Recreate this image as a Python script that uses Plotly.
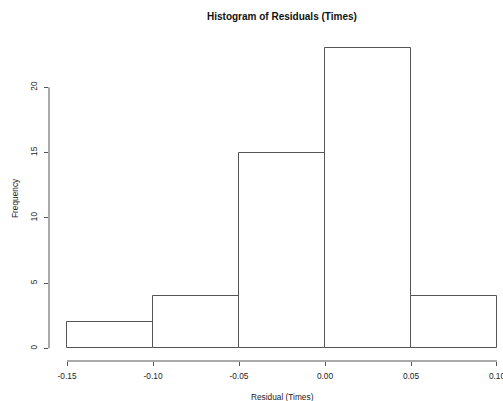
import plotly.graph_objects as go

# Data
breaks = [-0.15, -0.10, -0.05, 0.00, 0.05, 0.10]
counts = [2, 4, 15, 23, 4]
x_ticks = [-0.15, -0.10, -0.05, 0.00, 0.05, 0.10]
x_tick_labels = ["-0.15", "-0.10", "-0.05", "0.00", "0.05", "0.10"]
y_ticks = [0, 5, 10, 15, 20]
y_tick_labels = ["0", "5", "10", "15", "20"]

centers = [(a + b) / 2 for a, b in zip(breaks[:-1], breaks[1:])]
widths = [b - a for a, b in zip(breaks[:-1], breaks[1:])]

W, H = 503, 401
ML, MR, MT, MB = 49, 0, 36, 40
PW, PH = W - ML - MR, H - MT - MB

def px(xp):
    return (xp - ML) / PW

def py(yp):
    return (H - MB - yp) / PH

FONT = "Liberation Sans, Arial, sans-serif"
LC = "#555555"
TC = "#222222"

fig = go.Figure()
fig.add_trace(go.Bar(
    x=centers, y=counts, width=widths,
    marker=dict(color="white", line=dict(color=LC, width=1)),
    hoverinfo="x+y", showlegend=False,
))

fig.update_layout(
    width=W, height=H,
    margin=dict(l=ML, r=MR, t=MT, b=MB, pad=0, autoexpand=False),
    paper_bgcolor="white", plot_bgcolor="white",
    font=dict(family=FONT, size=8, color=TC),
    xaxis=dict(
        range=[-0.1605, 0.1035], showgrid=False, zeroline=False, showline=False,
        automargin=False,
        tickmode="array", tickvals=x_ticks, ticktext=x_tick_labels,
        ticks="outside", ticklen=4, tickwidth=1, tickcolor=LC,
        tickfont=dict(size=8.3, family=FONT, color=TC),
        ticklabelstandoff=3, ticklabeloverflow="allow",
    ),
    yaxis=dict(
        range=[-0.97, 23.93], showgrid=False, zeroline=False, showline=False,
        automargin=False,
        tickmode="array", tickvals=y_ticks, ticktext=y_tick_labels,
        ticks="outside", ticklen=4, tickwidth=1, tickcolor=LC, tickangle=-90,
        tickfont=dict(size=8.3, family=FONT, color=TC),
        ticklabelstandoff=4, ticklabeloverflow="allow",
    ),
    bargap=0,
)

# axis lines spanning the tick range (R style)
fig.add_shape(type="line", xref="x", yref="paper",
              x0=min(x_ticks), x1=max(x_ticks), y0=0, y1=0,
              line=dict(color=LC, width=1))
fig.add_shape(type="line", xref="paper", yref="y",
              x0=0, x1=0, y0=min(y_ticks), y1=max(y_ticks),
              line=dict(color=LC, width=1))

fig.add_annotation(text="<b>Histogram of Residuals (Times)</b>", xref="paper", yref="paper",
                   x=px(282), y=py(16), xanchor="center", yanchor="middle",
                   showarrow=False, font=dict(size=10, family=FONT, color="#111111"))
fig.add_annotation(text="Residual (Times)", xref="paper", yref="paper",
                   x=px(282), y=py(397), xanchor="center", yanchor="middle",
                   showarrow=False, font=dict(size=8.3, family=FONT, color=TC))
fig.add_annotation(text="Frequency", xref="paper", yref="paper",
                   x=px(15), y=py(198), xanchor="center", yanchor="middle", textangle=-90,
                   showarrow=False, font=dict(size=8.3, family=FONT, color=TC))

fig.write_html("out.html", config={"displayModeBar": False},
               post_script="document.body.style.margin='0';document.body.style.overflow='hidden';")
